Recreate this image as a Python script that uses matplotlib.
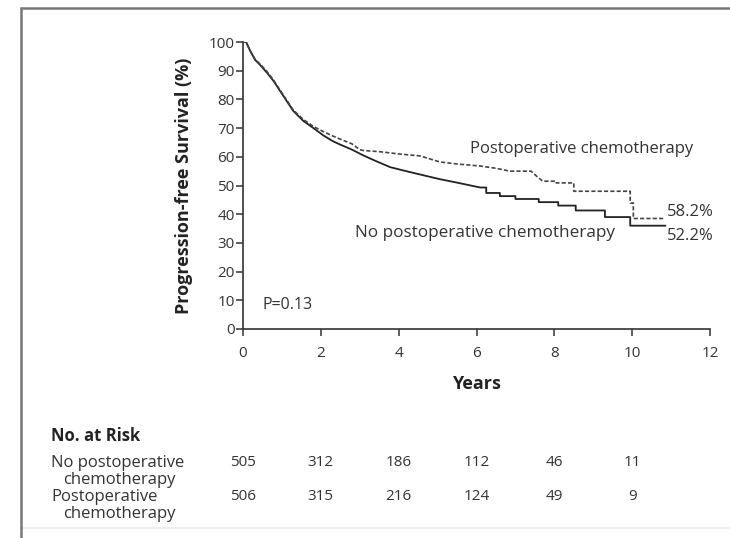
import matplotlib
matplotlib.use("Agg")
import matplotlib.pyplot as plt
from matplotlib.lines import Line2D
from matplotlib.transforms import blended_transform_factory

plt.rcParams['font.family'] = ['Open Sans', 'DejaVu Sans']

# Kaplan-Meier curves, years vs progression-free survival (%).
# Early events are dense, so that part is a plain polyline; later drops are
# written as step corners (same time twice).
t_none = [0, 0.08, 0.13, 0.2, 0.31, 0.44, 0.61, 0.78, 0.95, 1.12, 1.29, 1.55,
          1.81, 2.06, 2.3, 2.49, 2.8, 3.09, 3.4, 3.78, 4.1, 4.5, 5.06, 5.5,
          5.92, 6.1, 6.25, 6.25, 6.6, 6.6, 7.0, 7.0, 7.6, 7.6, 8.1, 8.1,
          8.55, 8.55, 9.3, 9.3, 9.95, 9.95, 10.85]
s_none = [100, 100, 98.5, 96.5, 93.8, 92, 89.4, 86.5, 83, 79.5, 76, 72.5,
          70, 67.5, 65.5, 64.3, 62.5, 60.5, 58.6, 56.4, 55.3, 54, 52.2, 51,
          49.8, 49.3, 49.3, 47.4, 47.4, 46.3, 46.3, 45.3, 45.3, 44.2, 44.2, 43,
          43, 41.3, 41.3, 39, 39, 36, 36]

t_chemo = [0, 0.08, 0.13, 0.2, 0.31, 0.44, 0.61, 0.78, 0.95, 1.12, 1.29, 1.55,
           1.81, 2.06, 2.3, 2.49, 2.8, 3.0, 3.09, 3.5, 4.0, 4.55, 5.06, 5.5,
           6.09, 6.5, 6.86, 7.4, 7.55, 7.7, 8.05, 8.05, 8.5, 8.5, 9.95, 9.95,
           10.03, 10.03, 10.85]
s_chemo = [100, 100, 98.5, 96.5, 94, 92.3, 89.8, 86.8, 83.3, 79.8, 76.3, 73,
           70.6, 68.8, 67.3, 66.2, 64.5, 62.5, 62.2, 61.8, 61.0, 60.3, 58.2, 57.5,
           56.8, 56.0, 55.0, 55.0, 53.2, 51.5, 51.5, 50.9, 50.9, 48.0, 48.0, 43.9,
           43.9, 38.5, 38.5]

five_year_none = "52.2%"
five_year_chemo = "58.2%"

risk_years = [0, 2, 4, 6, 8, 10]
risk_none = [505, 312, 186, 112, 46, 11]
risk_chemo = [506, 315, 216, 124, 49, 9]

W, H = 730, 538
fig = plt.figure(figsize=(W / 100, H / 100), dpi=100)
ax = fig.add_axes([243 / W, 1 - 329 / H, (710 - 243) / W, (329 - 42) / H])

ax.plot(t_none, s_none, color='#222222', lw=1.3)
ax.plot(t_chemo, s_chemo, color='#444444', lw=1.2, linestyle=(0, (2.5, 1.3)))

ax.set_xlim(0, 12)
ax.set_ylim(0, 100)
ax.set_xticks(range(0, 13, 2))
ax.set_yticks(range(0, 101, 10))
for s in ['top', 'right']:
    ax.spines[s].set_visible(False)
for s in ['left', 'bottom']:
    ax.spines[s].set_color('#333333')
    ax.spines[s].set_linewidth(1.2)
ax.tick_params(direction='out', length=5, width=1.1, color='#333333',
               labelsize=11, labelcolor='#333333')
ax.tick_params(axis='x', pad=7)
ax.tick_params(axis='y', pad=1)

ax.set_xlabel('Years', fontsize=13, fontweight='bold', color='#222222', labelpad=10)
ax.set_ylabel('Progression-free Survival (%)', fontsize=13, fontweight='bold',
              color='#222222', labelpad=11)

tc = '#333333'
ax.text(0.5, 8.5, 'P=0.13', fontsize=11.5, color=tc, va='center')
ax.text(5.84, 62.6, 'Postoperative chemotherapy', fontsize=12, color=tc, va='center')
ax.text(2.88, 33.6, 'No postoperative chemotherapy', fontsize=12.3, color=tc, va='center')
ax.text(10.9, 40.9, five_year_chemo, fontsize=12, color=tc, va='center')
ax.text(10.9, 32.5, five_year_none, fontsize=12, color=tc, va='center')

# number-at-risk table under the x axis
tr = blended_transform_factory(ax.transData, fig.transFigure)
def fy(py):
    return 1 - py / H

fig.text(51 / W, fy(436), 'No. at Risk', fontsize=12, fontweight='bold',
         color='#222222', va='center')
fig.text(51 / W, fy(463), 'No postoperative', fontsize=12, color=tc, va='center')
fig.text(63 / W, fy(480), 'chemotherapy', fontsize=12, color=tc, va='center')
fig.text(51 / W, fy(497), 'Postoperative', fontsize=12, color=tc, va='center')
fig.text(63 / W, fy(514), 'chemotherapy', fontsize=12, color=tc, va='center')
for x, a, b in zip(risk_years, risk_none, risk_chemo):
    ax.text(x, fy(463), str(a), transform=tr, fontsize=11, color=tc,
            ha='center', va='center')
    ax.text(x, fy(497), str(b), transform=tr, fontsize=11, color=tc,
            ha='center', va='center')

# panel frame: top and left edges as one path, faint bottom rule
fig.add_artist(Line2D([1, 20.5 / W, 20.5 / W], [fy(7.5), fy(7.5), 0],
                      color='#777777', lw=1.8, transform=fig.transFigure,
                      clip_on=False, zorder=10, solid_joinstyle='miter'))
fig.add_artist(Line2D([20.5 / W, 1], [fy(528), fy(528)], color='#eeeeee',
                      lw=1.5, transform=fig.transFigure, clip_on=False))

fig.savefig('out.png', dpi=100)
